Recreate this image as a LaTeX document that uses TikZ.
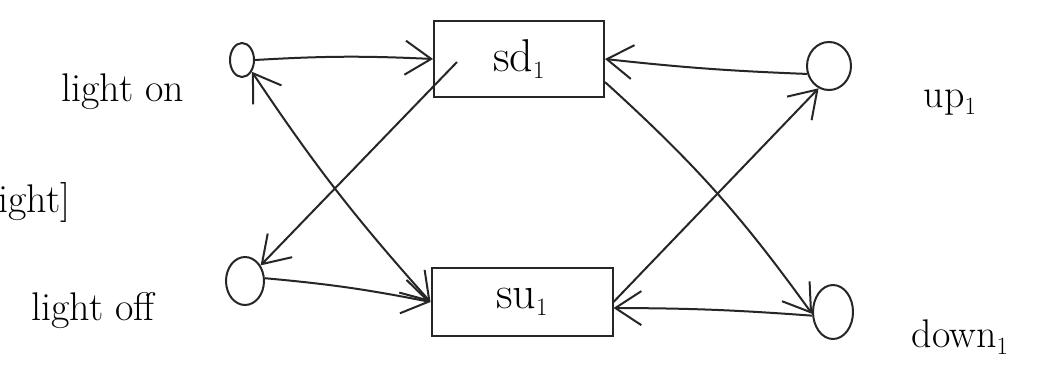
\documentclass[tikz,border=0pt]{standalone}
\usetikzlibrary{arrows.meta,shapes.geometric}
\begin{document}
\begin{tikzpicture}[x=1pt,y=-1pt,
  ink/.style={draw=black!85, line width=2pt},
  circ/.style={ink, ellipse, inner sep=0pt},
  box/.style={ink, rectangle, inner sep=0pt, font=\fontsize{46}{50}\selectfont},
  lbl/.style={font=\fontsize{40}{44}\selectfont, anchor=base, inner sep=0pt},
  conn/.style={ink, -{Straight Barb[length=26pt,width=34pt]}},
  conn2/.style={ink, {Straight Barb[length=26pt,width=34pt]}-{Straight Barb[length=26pt,width=34pt]}}
]
\useasboundingbox (0,0) rectangle (1048,370);
\clip (0,0) rectangle (1048,370);
\fill[white] (0,0) rectangle (1048,370);

% state boxes
\node[box, minimum width=170pt, minimum height=76pt] (sd) at (519,59) {sd$_1$};
\node[box, minimum width=181pt, minimum height=68pt] (su) at (522,302) {su$_1$};

% observation circles
\node[circ, minimum width=24pt, minimum height=34pt] (LO) at (242,60) {};
\node[circ, minimum width=38pt, minimum height=48pt] (LF) at (245,281) {};
\node[circ, minimum width=44pt, minimum height=48pt] (UP) at (829,66) {};
\node[circ, minimum width=40pt, minimum height=54pt] (DN) at (833,312) {};

% labels
\node[lbl] (tlo) at (123,101) {light on};
\node[lbl] (tlf) at (93,320) {light off};
\node[lbl, anchor=base west] (tlt) at (-2,212) {ight]};
\node[lbl] (tup) at (950,107) {up$_1$};
\node[lbl] (tdn) at (960,347) {down$_1$};

\coordinate (sdin) at (457,62);

% connectors, left side
\draw[conn] (LO.east) to[bend left=3] (sd.west);
\draw[conn2] (LO.-50) to[bend right=4] (su.west);
\draw[conn] (sdin) -- (LF.45);
\draw[conn] (LF.8) to[bend left=3] (su.west);

% connectors, right side
\draw[conn] (UP.200) to[bend left=2] (sd.east);
\draw[conn] (sd.-15) to[bend left=6] (DN.185);
\draw[conn] (su.east) -- (UP.-115);
\draw[conn] (DN.190) to[bend right=2] ([yshift=-6pt]su.east);
\end{tikzpicture}
\end{document}
